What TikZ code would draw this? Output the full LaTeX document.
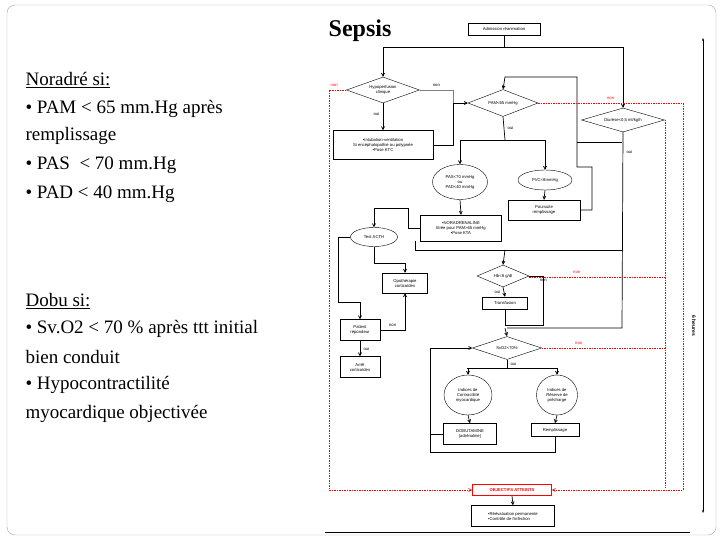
\documentclass[tikz,border=0pt]{standalone}
\usepackage{fontspec}
\setmainfont{Liberation Serif}
\newfontfamily\flowfont{Liberation Sans}
\usetikzlibrary{arrows.meta,shapes,shapes.geometric}
\tikzset{>={Straight Barb[length=3pt,width=3pt]}}
\tikzset{
  box/.style={draw,rectangle,inner sep=0pt,align=center,font=\flowfont\fontsize{4.2}{5}\selectfont},
  dia/.style={draw,diamond,shape aspect=3,inner sep=0pt,align=center,font=\flowfont\fontsize{4.2}{5}\selectfont},
  ell/.style={draw,ellipse,inner sep=0pt,align=center,font=\flowfont\fontsize{4.2}{5}\selectfont},
  lab/.style={font=\flowfont\fontsize{4.2}{5}\selectfont},
  flow/.style={line width=0.7pt},
  redflow/.style={red,line width=0.6pt,dash pattern=on 1.5pt off 1pt},
  bigtxt/.style={anchor=west,font=\fontsize{19}{23}\selectfont}
}
\begin{document}
\begin{tikzpicture}[x=1pt,y=-1pt]
  \useasboundingbox (0,0) rectangle (720,540);
  \draw[gray!70,rounded corners=8pt] (7,5) rectangle (716,535);
  \draw[line width=1pt] (325,532) -- (690,532);
  % left column
  \node[font=\bfseries\fontsize{24}{28}\selectfont] (title) at (360,31) {Sepsis};
  \node[bigtxt] (t1) at (22,80) {\underline{Noradré si:}};
  \node[bigtxt] (t2) at (22,109) {• PAM < 65 mm.Hg après};
  \node[bigtxt] (t3) at (22,136) {remplissage};
  \node[bigtxt] (t4) at (22,165) {• PAS \ < 70 mm.Hg};
  \node[bigtxt] (t5) at (22,194) {• PAD < 40 mm.Hg};
  \node[bigtxt] (t6) at (22,301) {\underline{Dobu si:}};
  \node[bigtxt] (t7) at (22,329) {• Sv.O2 < 70 \% après ttt initial};
  \node[bigtxt] (t8) at (22,357) {bien conduit};
  \node[bigtxt] (t9) at (22,385) {• Hypocontractilité};
  \node[bigtxt] (t10) at (22,414) {myocardique objectivée};
  % flowchart nodes
  \node[box,minimum width=72,minimum height=12] (adm) at (504,29) {Admission réanimation};
  \node[dia,minimum width=73,minimum height=26] (hyp) at (383,90) {Hypoperfusion\\clinique};
  \node[box,minimum width=100,minimum height=29] (intu) at (383,145) {•Intubation-ventilation\\Si encéphalopathie ou polypnée\\•Pose KTC};
  \node[dia,minimum width=70,minimum height=27] (pam) at (503,103) {PAM<65 mmHg};
  \node[dia,minimum width=83,minimum height=24] (diu) at (623,120) {Diurèse<0,5 ml/kg/h};
  \node[ell,minimum width=55,minimum height=35] (pas) at (460,182) {PAS<70 mmHg\\ou\\PAD<40 mmHg};
  \node[ell,minimum width=54,minimum height=20] (pvc) at (545,180) {PVC<8mmHg};
  \node[box,minimum width=72,minimum height=20] (pour) at (544,210) {Poursuite\\remplissage};
  \node[box,minimum width=81,minimum height=26] (nora) at (461,228) {•NORADRENALINE\\titrée pour PAM>65 mmHg\\•Pose KTA};
  \node[ell,minimum width=47,minimum height=19] (acth) at (374,237) {Test ACTH};
  \node[box,minimum width=45,minimum height=20] (opo) at (405,283) {Opothérapie\\corticoïdes};
  \node[box,minimum width=40,minimum height=21] (pat) at (360,330) {Patient\\répondeur};
  \node[box,minimum width=40,minimum height=21] (arr) at (360,367) {Arrêt\\corticoïdes};
  \node[dia,minimum width=52,minimum height=22] (hb) at (503,276) {Hb<8 g/dl};
  \node[box,minimum width=45,minimum height=12] (tra) at (505,303) {Transfusion};
  \node[dia,minimum width=69,minimum height=23] (svo) at (507,348) {SvO2<70\%};
  \node[ell,minimum width=48,minimum height=40] (ctr) at (468,395) {Indices de\\Contractilité\\myocardique};
  \node[ell,minimum width=41,minimum height=40] (res) at (557,395) {Indices de\\Réserve de\\précharge};
  \node[box,minimum width=53,minimum height=21] (dob) at (470,434) {DOBUTAMINE\\(adrénaline)};
  \node[box,minimum width=48,minimum height=13] (rem) at (555,430) {Remplissage};
  \node[box,draw=red,line width=0.8pt,text=red,font=\flowfont\bfseries\fontsize{4.2}{5}\selectfont,minimum width=79,minimum height=11] (obj) at (512,490) {OBJECTIFS ATTEINTS};
  \node[box,minimum width=83,minimum height=21,align=left] (fin) at (513,516) {•Réévaluation permanente\\•Contrôle de l'infection};
  % connectors
  \draw[flow,->] (adm.south) |- (383,47) -- (hyp.north);
  \draw[flow,->] (383,47) -| (diu.north);
  \draw[flow,->] (hyp.south) -- node[lab,left,pos=0.4] {oui} (intu.north);
  \draw[flow,gray] (hyp.east) -- node[lab,above,black] {non} (453,90) -- (453,104);
  \draw[flow,->] (intu.east) -- (453,145) |- (pam.west);
  \draw[flow,->] (pour.east) -- (592,210) |- (577,167) |- (505,77) -- (pam.north);
  \draw[flow] (577,142) -- (622,142);
  \draw[flow] (pam.south) -- node[lab,right] {oui} (505,140);
  \draw[flow,->] (462,140) -| (pvc.north);
  \draw[flow,->] (505,140) -| (pas.north);
  \draw[flow,->] (pvc.south) -- (pour.north);
  \draw[flow,->] (pas.south) -- (nora.north);
  \draw[flow,->] (nora.west) -- (408,228) |- (374,208) -- (acth.north);
  \draw[flow] (diu.south) -- node[lab,right,pos=0.1] {oui} (622,328) -- (507,328);
  \draw[flow] (415,241) |- (622,250);
  \draw[flow,->] (505,250) -- (hb.north);
  \draw[flow,->] (acth.south) |- (405,263) -- (opo.north);
  \draw[flow,->] (acth.west) -- (338,237) |- (360,302) -- (pat.north);
  \draw[flow,->] (pat.east) -- node[lab,above] {non} (405,330) -- (opo.south);
  \draw[flow,->] (pat.south) -- node[lab,right] {oui} (arr.north);
  \draw[flow,->] (hb.south) -- node[lab,left] {oui} (tra.north);
  \draw[flow] (hb.east) -- node[lab,below right] {non} (543,276) |- (505,325);
  \draw[flow] (tra.south) -- (505,325);
  \draw[flow,->] (505,328) -- (svo.north);
  \draw[flow] (svo.south) -- node[lab,right] {oui} (507,368);
  \draw[flow,->] (467,368) -| (res.north);
  \draw[flow,->] (507,368) -| (ctr.north);
  \draw[flow,->] (ctr.south) -- (dob.north);
  \draw[flow,->] (res.south) -- (rem.north);
  \draw[flow,->] (rem.south) |- (430,452) |- (svo.west);
  \draw[flow] (dob.west) -- (430,434);
  \draw[flow,->] (obj.south) -- (fin.north);
  % red branches
  \draw[redflow,->] (hyp.west) -- node[above,lab,text=red,pos=0.7] {non} (329,90) |- (obj.west);
  \draw[redflow,->] (pam.east) -- node[lab,above,text=red] {non} (683,103) |- (obj.east);
  \draw[redflow] (diu.east) -- (665,120) -- (665,488);
  \draw[redflow] (hb.east) ++(0,1) -- node[lab,above,text=red,pos=0.35] {non} (665,277);
  \draw[redflow] (svo.east) -- node[lab,above,text=red,pos=0.3] {non} (665,348);
  % time axis
  \draw[line width=0.5pt,{Stealth[length=3pt]}-{Stealth[length=3pt]}] (703,38) -- (703,513);
  \node[lab,font=\flowfont\bfseries\fontsize{5}{6}\selectfont,rotate=-90] (six) at (694,326) {6 heures};
\end{tikzpicture}
\end{document}
